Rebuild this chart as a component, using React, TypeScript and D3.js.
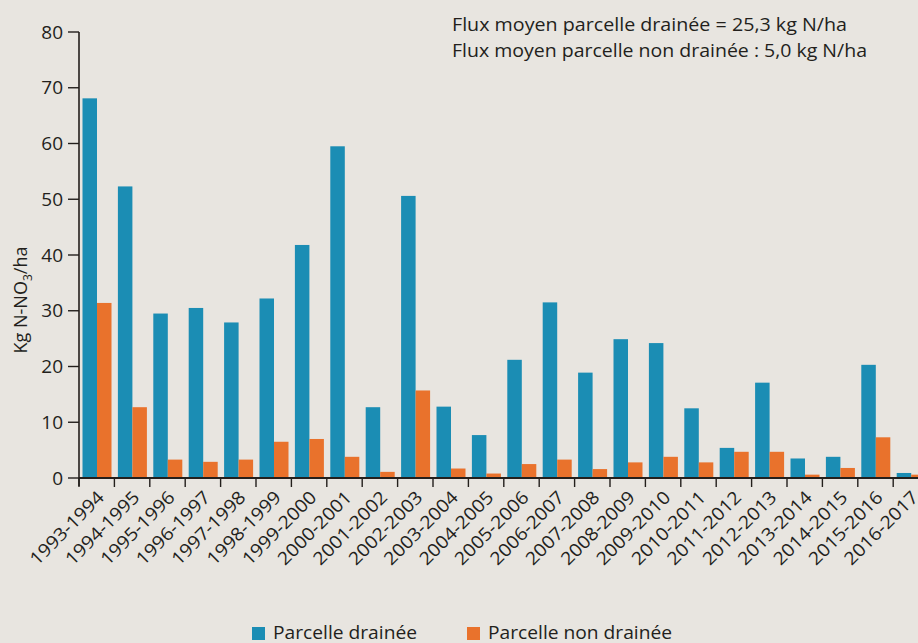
import { useEffect, useRef } from 'react'
import * as d3 from 'd3'

const campaigns = [
  '1993-1994', '1994-1995', '1995-1996', '1996-1997', '1997-1998', '1998-1999',
  '1999-2000', '2000-2001', '2001-2002', '2002-2003', '2003-2004', '2004-2005',
  '2005-2006', '2006-2007', '2007-2008', '2008-2009', '2009-2010', '2010-2011',
  '2011-2012', '2012-2013', '2013-2014', '2014-2015', '2015-2016', '2016-2017',
]
const drained = [
  68.1, 52.3, 29.5, 30.5, 27.9, 32.2, 41.8, 59.5, 12.7, 50.6, 12.8, 7.7,
  21.2, 31.5, 18.9, 24.9, 24.2, 12.5, 5.4, 17.1, 3.5, 3.8, 20.3, 0.9,
]
const undrained = [
  31.4, 12.7, 3.3, 2.9, 3.3, 6.5, 7.0, 3.8, 1.1, 15.7, 1.7, 0.8,
  2.5, 3.3, 1.6, 2.8, 3.8, 2.8, 4.7, 4.7, 0.6, 1.8, 7.3, 0.6,
]
const yTicks = [0, 10, 20, 30, 40, 50, 60, 70, 80]
const series = ['Parcelle drainée', 'Parcelle non drainée']
const notes = [
  'Flux moyen parcelle drainée = 25,3 kg N/ha',
  'Flux moyen parcelle non drainée : 5,0 kg N/ha',
]

const W = 918
const H = 643
const BG = '#e8e5e0'
const BLUE = '#1b8db4'
const ORANGE = '#e9722c'
const INK = '#231f1c'
const FONT = '"Open Sans", "Noto Sans", sans-serif'

export default function App() {
  const ref = useRef<SVGSVGElement>(null)

  useEffect(() => {
    if (!ref.current) return
    const svg = d3.select(ref.current)
    svg.selectAll('*').remove()

    const x0 = d3.scaleBand<string>()
      .domain(campaigns)
      .range([79, 79 + campaigns.length * 35.4])
      .padding(0)
    const x1 = d3.scaleBand<string>()
      .domain(series)
      .range([3.5, 32.5])
      .padding(0)
    const y = d3.scaleLinear().domain([0, 80]).range([478, 32])

    svg.append('rect').attr('width', W).attr('height', H).attr('fill', BG)

    // bars
    const rows = campaigns.map((c, i) => ({ c, vals: [drained[i], undrained[i]] }))
    svg.append('g')
      .selectAll('g')
      .data(rows)
      .join('g')
      .attr('transform', d => `translate(${x0(d.c)},0)`)
      .selectAll('rect')
      .data(d => d.vals.map((v, k) => ({ k: series[k], v })))
      .join('rect')
      .attr('x', d => x1(d.k)!)
      .attr('width', x1.bandwidth())
      .attr('y', d => y(d.v))
      .attr('height', d => y(0) - y(d.v))
      .attr('fill', d => (d.k === series[0] ? BLUE : ORANGE))

    // y axis
    const ya = svg.append('g')
    ya.append('line')
      .attr('x1', 79).attr('x2', 79)
      .attr('y1', y(80)).attr('y2', y(0) + 8)
      .attr('stroke', INK).attr('stroke-width', 1.6)
    ya.selectAll('line.tk')
      .data(yTicks)
      .join('line')
      .attr('class', 'tk')
      .attr('x1', 68).attr('x2', 79)
      .attr('y1', d => y(d)).attr('y2', d => y(d))
      .attr('stroke', INK).attr('stroke-width', 1.4)
    ya.selectAll('text')
      .data(yTicks)
      .join('text')
      .attr('x', 63)
      .attr('y', d => y(d))
      .attr('dy', '0.35em')
      .attr('text-anchor', 'end')
      .attr('font-family', FONT)
      .attr('font-size', 19)
      .attr('fill', INK)
      .text(d => d)

    const yl = svg.append('text')
      .attr('transform', 'translate(27,300) rotate(-90)')
      .attr('text-anchor', 'middle')
      .attr('font-family', FONT)
      .attr('font-size', 18)
      .attr('fill', INK)
    yl.append('tspan').text('Kg N-NO')
    yl.append('tspan').attr('font-size', 12).attr('dy', 5).text('3')
    yl.append('tspan').attr('dy', -5).text('/ha')

    // x axis
    const xa = svg.append('g')
    xa.append('line')
      .attr('x1', 79).attr('x2', W)
      .attr('y1', y(0)).attr('y2', y(0))
      .attr('stroke', INK).attr('stroke-width', 1.8)
    xa.selectAll('line.tk')
      .data(campaigns)
      .join('line')
      .attr('class', 'tk')
      .attr('x1', d => x0(d)!).attr('x2', d => x0(d)!)
      .attr('y1', y(0)).attr('y2', y(0) + 9)
      .attr('stroke', INK).attr('stroke-width', 1.4)
    xa.selectAll('text')
      .data(campaigns)
      .join('text')
      .attr('transform', d => `translate(${x0(d)! + x0.bandwidth() / 2 + 4},${y(0) + 16}) rotate(-45)`)
      .attr('text-anchor', 'end')
      .attr('dy', '0.35em')
      .attr('font-family', FONT)
      .attr('font-size', 18)
      .attr('textLength', 96)
      .attr('lengthAdjust', 'spacingAndGlyphs')
      .attr('fill', INK)
      .text(d => d)

    // notes
    const noteLen = [395, 415]
    svg.selectAll('text.note')
      .data(notes)
      .join('text')
      .attr('class', 'note')
      .attr('x', 452)
      .attr('y', (_d, i) => 31 + i * 26)
      .attr('font-family', FONT)
      .attr('font-size', 19)
      .attr('textLength', (_d, i) => noteLen[i])
      .attr('lengthAdjust', 'spacingAndGlyphs')
      .attr('fill', INK)
      .text(d => d)

    // legend
    const legX = [252, 467]
    const legLen = [144, 184]
    const lg = svg.append('g')
    lg.selectAll('rect')
      .data(series)
      .join('rect')
      .attr('x', (_d, i) => legX[i]).attr('y', 627)
      .attr('width', 13).attr('height', 13)
      .attr('fill', (_d, i) => (i === 0 ? BLUE : ORANGE))
    lg.selectAll('text')
      .data(series)
      .join('text')
      .attr('x', (_d, i) => legX[i] + 21).attr('y', 639)
      .attr('font-family', FONT)
      .attr('font-size', 18)
      .attr('textLength', (_d, i) => legLen[i])
      .attr('lengthAdjust', 'spacingAndGlyphs')
      .attr('fill', INK)
      .text(d => d)
  }, [])

  return (
    <svg
      ref={ref}
      width={W}
      height={H}
      viewBox={`0 0 ${W} ${H}`}
      style={{ position: 'absolute', left: 0, top: 0, display: 'block' }}
    />
  )
}
